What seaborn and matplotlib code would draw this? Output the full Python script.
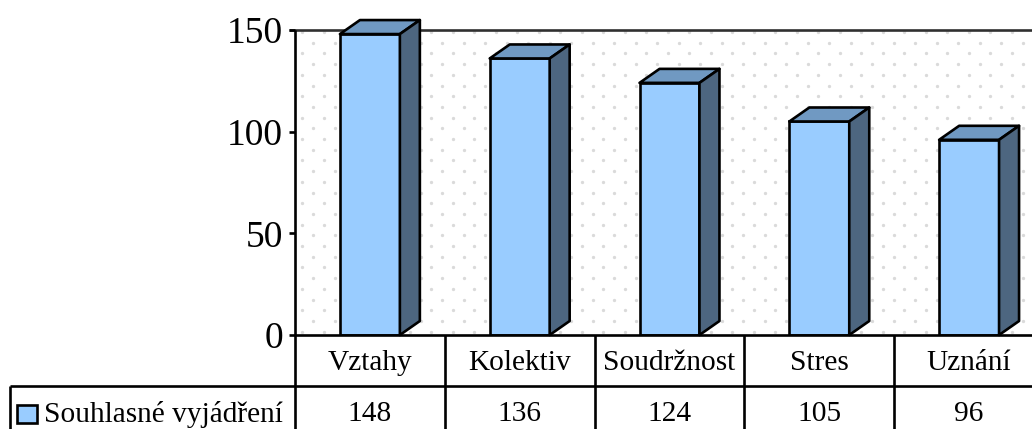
import matplotlib
matplotlib.use("Agg")
import matplotlib.pyplot as plt
import numpy as np
import pandas as pd
import seaborn as sns
from matplotlib.lines import Line2D
from matplotlib.patches import Polygon, Rectangle
from matplotlib.transforms import Affine2D

categories = ["Vztahy", "Kolektiv", "Soudržnost", "Stres", "Uznání"]
values = [148, 136, 124, 105, 96]
series_name = "Souhlasné vyjádření"
y_ticks = [0, 50, 100, 150]

W, H = 1032, 429
DPI = 100
FRONT, TOP, SIDE = "#99CCFF", "#7099C2", "#4D6680"
LW = 1.9
SERIF = "Liberation Serif"
TABLE_FS = 21.2

sns.set_theme(style="white", rc={"font.family": SERIF})
plt.rcParams["font.family"] = [SERIF, "DejaVu Serif"]

fig = plt.figure(figsize=(W / DPI, H / DPI), dpi=DPI, facecolor="white")
L, R, T, B = 295.0, 1044.0, 30.0, 335.0
ax = fig.add_axes([L / W, 1 - B / H, (R - L) / W, (B - T) / H])
ax.set_facecolor("white")

df = pd.DataFrame({"cat": categories, "val": values})
sns.barplot(data=df, x="cat", y="val", ax=ax, color=FRONT, saturation=1,
            width=0.4, edgecolor="black", linewidth=LW, zorder=5)
ax.set_xlim(-0.5, 4.5)
ax.set_ylim(0, 150)
ax.set_xlabel("")
ax.set_ylabel("")

# pixel space with origin at the top-left of the figure
px = Affine2D().scale(1, -1).translate(0, H)

# background dot pattern, staggered rows
rows = np.arange(32, 335, 10.7)
xs, ys = [], []
for i, yy in enumerate(rows):
    start = 302 if i % 2 == 0 else 313
    for xx in np.arange(start, W + 1, 21.5):
        xs.append(xx)
        ys.append(yy)
ax.add_line(Line2D(xs, ys, ls="none", marker="o", ms=2.4, mfc="#DADADA", mec="none",
                   transform=px, clip_on=True, zorder=1))

# 3D depth of each bar, offset in pixels from the bar's data position
DX, DY = 20, 14
to_px = lambda x, y: ax.transData.transform((x, y))
for i, v in enumerate(values):
    x0, x1 = i - 0.2, i + 0.2
    a = to_px(x0, v); b = to_px(x1, v); c = to_px(x1, 0)
    top = [a, b, b + (DX, DY), a + (DX, DY)]
    side = [b, c, c + (DX, DY), b + (DX, DY)]
    fig.add_artist(Polygon(top, closed=True, fc=TOP, ec="black", lw=LW, transform=None,
                           joinstyle="round", zorder=6))
    fig.add_artist(Polygon(side, closed=True, fc=SIDE, ec="black", lw=LW, transform=None,
                           joinstyle="round", zorder=6))

for s in ax.spines.values():
    s.set_visible(False)
ax.set_yticks(y_ticks)
ax.tick_params(axis="y", length=0, pad=8.5, labelsize=27, labelcolor="black")
ax.set_xticks([])

def hline(x0, x1, y, color="black", lw=LW):
    fig.add_artist(Line2D([x0 / W, x1 / W], [1 - y / H, 1 - y / H], color=color, lw=lw,
                          solid_capstyle="butt", zorder=3))

def vline(x, y0, y1):
    fig.add_artist(Line2D([x / W, x / W], [1 - y0 / H, 1 - y1 / H], color="black", lw=LW,
                          solid_capstyle="butt", zorder=3))

# frame, y ticks and data-table grid
hline(289, W, T, color="#303030")
vline(L, T, H)
for t in y_ticks:
    yp = ax.transData.transform((0, t))[1]
    hline(289, L, H - yp)
hline(L, W, B)
hline(10, W, 386)
vline(10, 386, H)
for i in range(1, 5):
    xp = ax.transData.transform((i - 0.5, 0))[0]
    vline(xp, B, H)

# table text
for i, (c, v) in enumerate(zip(categories, values)):
    xp = ax.transData.transform((i, 0))[0] / W
    fig.text(xp, 1 - 363 / H, c, ha="center", va="center", fontsize=TABLE_FS, color="black")
    fig.text(xp, 1 - 414 / H, str(v), ha="center", va="center", fontsize=TABLE_FS, color="black")

fig.add_artist(Rectangle((17 / W, 1 - 423 / H), 20 / W, 18 / H, transform=fig.transFigure,
                         fc=FRONT, ec="black", lw=LW, zorder=4))
fig.text(44 / W, 1 - 414 / H, series_name, ha="left", va="center", fontsize=TABLE_FS, color="black")

fig.savefig("out.png", dpi=DPI, facecolor="white")
